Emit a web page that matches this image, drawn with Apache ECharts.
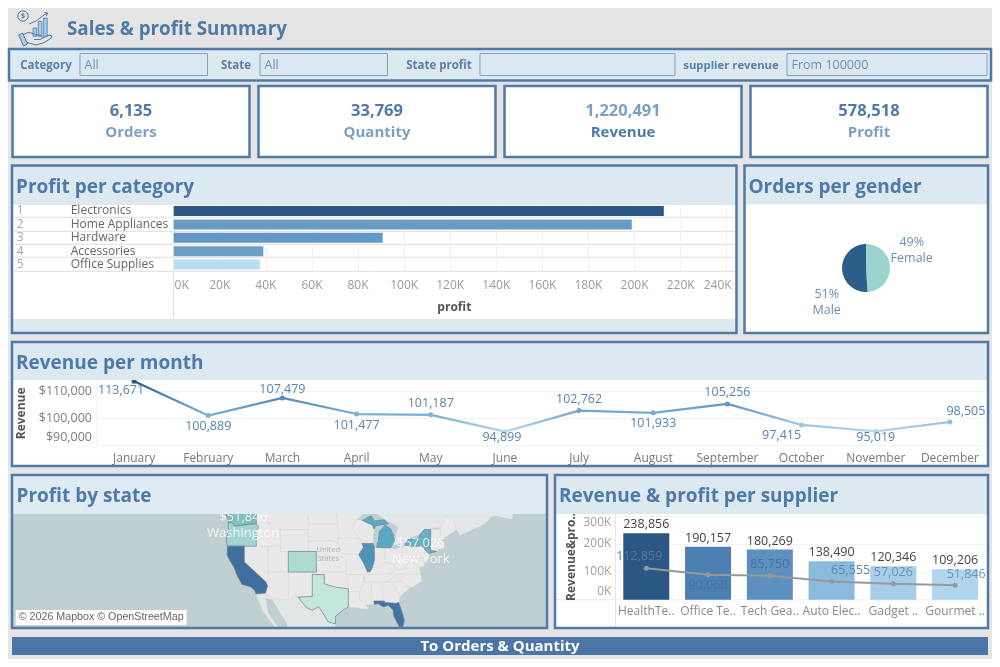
<!DOCTYPE html>
<html><head><meta charset="utf-8">
<style>html,body{margin:0;padding:0;background:#fff}#c{width:1000px;height:667px}</style>
<script src="https://cdn.jsdelivr.net/npm/echarts@6/dist/echarts.min.js"></script></head>
<body><div id="c"></div>
<script>
// ---------- data ----------
const kpiNames = ['Orders','Quantity','Revenue','Profit'];
const kpiValues = ['6,135','33,769','1,220,491','578,518'];
const categories = ['Electronics','Home Appliances','Hardware','Accessories','Office Supplies'];
const categoryRanks = ['1','2','3','4','5'];
const categoryProfit = [212700,198800,90700,38900,37400];
const genders = ['Female','Male'];
const genderOrders = [3006,3129];
const months = ['January','February','March','April','May','June','July','August','September','October','November','December'];
const monthRevenue = [113671,100889,107479,101477,101187,94899,102762,101933,105256,97415,95019,98505];
const suppliers = ['HealthTe..','Office Te..','Tech Gea..','Auto Elec..','Gadget ..','Gourmet ..'];
const supplierRevenue = [238856,190157,180269,138490,120346,109206];
const supplierProfit = [112859,90068,85750,65555,57026,51846];
const mapStates = ['Texas','Colorado','Oregon','Washington','New York','Michigan','Illinois','Florida','California'];
const labelledStates = ['Washington','New York'];
const labelledProfit = [51846,57026];

// ---------- styles ----------
const FONT = '"Open Sans","Noto Sans",sans-serif';
const BLUE = '#4f79a7', BAND = '#dce9f0', LIGHTTXT = '#7ba0c6', GUT = '#e5e5e5';
const categoryColors = ['#2a5783','#6a9bc3','#6298c5','#6e9dc5','#b9ddf1'];
const genderColors = ['#9bd4ce','#2b5f8a'];
const supplierColors = ['#2a5783','#4c80b2','#5d90bf','#8abbdc','#a6cee9','#b0d5ee'];
const stateColors = ['#c3e7dc','#acdccf','#a4d4d2','#7fbfbd','#66b2c6','#5aa9c2','#4f94b8','#3f73a3','#3f6f9c'];
const monthLabelOffsets = [[-13,9],[0,11],[0,-8.5],[0,11],[0,-11],[-3,6],[0,-11],[0,11],[0,-11],[-20,11],[0,6],[16,-11]];
const profitLabelOffsets = [[-7,-11.5],[0,11],[0,-11],[19,-11.5],[0,-11],[11,-11]];
const profitLabelColors = ['#567a9e','#47739f','#44719f','#5f86a8','#6c90b0','#6f95b8'];
const genderLabelAt = [[911.7,250.7],[826.7,302]];
const labelAnchors = [[-120.3,45.75],[-75.9,41.05]];

// ---------- base map geometry (rough outlines, lon/lat) ----------
const geoShapes = {
 Canada:[[-130,48.6],[-56,48.6],[-60,46],[-66,44],[-67,45],[-68,47.2],[-69.2,47.4],[-70.8,45.4],[-75,45],[-76,44.2],[-79,43.4],[-79.8,42.7],[-83,42.1],[-82.4,43],[-81.6,45.5],[-84.5,46.6],[-88.5,48.5],[-122.8,48.6],[-125,48.6]],
 Newfoundland:[[-59.4,47.7],[-53,46.8],[-52.8,48.6],[-58,48.6]],
 Mexico:[[-117.1,32.5],[-114.8,32.5],[-111,31.3],[-108.2,31.3],[-108.2,31.8],[-106.5,31.8],[-104.5,29.6],[-103,29],[-101.4,29.8],[-99,26.4],[-97.2,26],[-97.6,23],[-109,23],[-109.3,26],[-113,31.2],[-114.7,31.6],[-114,28.5],[-110,23],[-112.2,25],[-115.5,29]],
 Nevada:[[-120,42],[-114,42],[-114,36.2],[-114.6,35],[-120,39]],
 Idaho:[[-117,49],[-116,49],[-116,48],[-114.5,46.6],[-113.5,45.5],[-111,44.5],[-111,42],[-117,42],[-117,44.3],[-116.5,45.5],[-117,46]],
 Montana:[[-116,49],[-104,49],[-104,45],[-111,45],[-111,44.5],[-113.5,45.5],[-114.5,46.6],[-116,48]],
 Wyoming:[[-111,45],[-104,45],[-104,41],[-111,41]],
 Utah:[[-114,42],[-111,42],[-111,41],[-109,41],[-109,37],[-114,37]],
 Arizona:[[-114,37],[-109,37],[-109,31.3],[-111,31.3],[-114.8,32.5],[-114.7,32.7],[-114.2,34.2],[-114.6,35],[-114,36.2]],
 NewMexico:[[-109,37],[-103,37],[-103,32],[-106.6,32],[-106.5,31.8],[-108.2,31.8],[-108.2,31.3],[-109,31.3]],
 NorthDakota:[[-104,49],[-97.2,49],[-96.6,46],[-104,46]],
 SouthDakota:[[-104,46],[-96.6,46],[-96.5,42.5],[-98,43],[-104,43]],
 Nebraska:[[-104,43],[-98,43],[-96.5,42.5],[-95.3,40],[-102,40],[-102,41],[-104,41]],
 Kansas:[[-102,40],[-95.3,40],[-94.6,39],[-94.6,37],[-102,37]],
 Oklahoma:[[-103,37],[-94.6,37],[-94.4,35.4],[-94,33.6],[-97,33.9],[-100,34.6],[-100,36.5],[-103,36.5]],
 Minnesota:[[-97.2,49],[-95,49],[-92,48.3],[-89.7,48],[-92,46.7],[-92.8,45.5],[-92.7,44.8],[-91.3,43.5],[-96.5,43.5],[-96.6,46]],
 Iowa:[[-96.5,43.5],[-91.3,43.5],[-90.2,41.8],[-91.4,40.4],[-95.8,40.6],[-96.5,42.5]],
 Missouri:[[-95.8,40.6],[-91.4,40.4],[-90.2,38.8],[-89.2,37],[-89.6,36],[-90.4,36],[-90.3,36.5],[-94.6,36.5],[-94.6,39]],
 Arkansas:[[-94.6,36.5],[-90.3,36.5],[-90.2,35],[-91.2,33],[-94,33],[-94,33.6],[-94.4,35.4]],
 Louisiana:[[-94,33],[-91.2,33],[-91,31],[-89.7,31],[-89.6,30.2],[-89,29.2],[-91.5,29.5],[-94,29.7]],
 Wisconsin:[[-92,46.7],[-90.5,46.6],[-88,45.8],[-87.6,45.1],[-87.8,42.5],[-90.6,42.5],[-91.3,43.5],[-92.7,44.8],[-92.8,45.5]],
 Indiana:[[-87.5,41.7],[-84.8,41.7],[-84.8,39.1],[-86,38],[-88,37.9],[-87.5,39.3]],
 Ohio:[[-84.8,41.7],[-83.4,41.7],[-82.5,41.4],[-80.5,42],[-80.5,40.6],[-81.7,39],[-82.6,38.4],[-84.8,39.1]],
 Kentucky:[[-89.4,36.5],[-88,37.9],[-86,38],[-84.8,39.1],[-82.6,38.4],[-82,37.5],[-83.7,36.6]],
 Tennessee:[[-90.2,35],[-89.6,36.5],[-83.7,36.6],[-81.7,36.6],[-84.3,35]],
 Mississippi:[[-91.2,33],[-90.2,35],[-88.2,35],[-88.4,30.3],[-89.6,30.2],[-89.7,31],[-91,31]],
 Alabama:[[-88.2,35],[-85.6,35],[-85,32],[-85,31],[-87.6,31],[-87.5,30.3],[-88.4,30.3]],
 Georgia:[[-85.6,35],[-83.1,35],[-81,32],[-81.4,30.7],[-82.2,30.5],[-84.9,30.7],[-85,31]],
 SouthCarolina:[[-83.1,35],[-81,35.2],[-78.6,33.9],[-81,32]],
 NorthCarolina:[[-84.3,35],[-81.7,36.6],[-75.9,36.6],[-75.6,35.2],[-78,33.9],[-78.6,33.9],[-81,35.2],[-83.1,35]],
 Virginia:[[-83.7,36.6],[-75.9,36.6],[-76.3,38],[-77.2,38.5],[-78.3,39.4],[-80.3,37.5],[-82,37.5]],
 WestVirginia:[[-82.6,38.4],[-81.7,39],[-80.5,40.6],[-80.5,39.7],[-77.8,39.6],[-78.3,39.4],[-80.3,37.5],[-82,37.5]],
 Pennsylvania:[[-80.5,42],[-79.8,42.3],[-79.8,42],[-75.3,42],[-74.8,41.3],[-75.2,39.8],[-80.5,39.7]],
 NewJersey:[[-75.2,39.8],[-74.8,41.3],[-73.9,40.9],[-74,39.5],[-75,38.9]],
 Maryland:[[-79.5,39.7],[-75.2,39.7],[-75,38.2],[-76.3,38],[-77.2,38.5],[-78.3,39.4]],
 NewEngland:[[-73.5,41.2],[-73.4,45],[-71.5,45],[-71,45.3],[-70.7,43.1],[-70,41.7],[-71.8,41.3]],
 Maine:[[-71,45.3],[-70,46.7],[-69.2,47.4],[-68,47.2],[-67,45],[-70.7,43.1]],
 Washington:[[-124.7,48.4],[-123,48.2],[-122.8,49],[-117,49],[-117,46],[-119,45.9],[-121,45.7],[-122.3,45.6],[-123.2,46.2],[-124,46.3]],
 Oregon:[[-124,46.3],[-123.2,46.2],[-122.3,45.6],[-121,45.7],[-119,45.9],[-117,46],[-116.5,45.5],[-117,44.3],[-117,42],[-124.2,42],[-124.5,43],[-124,45]],
 California:[[-124.2,42],[-120,42],[-120,39],[-114.6,35],[-114.2,34.2],[-114.7,32.7],[-117.1,32.5],[-117.4,33.3],[-118.5,34],[-120.6,34.5],[-121.9,36.5],[-122.5,37.8],[-123.8,39.5],[-124.3,40.4]],
 Colorado:[[-109,41],[-102,41],[-102,37],[-109,37]],
 Texas:[[-103,36.5],[-100,36.5],[-100,34.6],[-97,33.9],[-94,33.6],[-94,29.7],[-95,29.2],[-97.2,27.7],[-97.2,26],[-99,26.4],[-101.4,29.8],[-103,29],[-104.5,29.6],[-106.5,31.8],[-103,32]],
 Illinois:[[-90.6,42.5],[-87.8,42.5],[-87.5,41.7],[-87.5,39.3],[-88,37.9],[-88.5,37.1],[-89.2,37],[-90.2,38.8],[-91.4,40.4],[-90.2,41.8]],
 Florida:[[-87.6,31],[-85,31],[-84.9,30.7],[-82.2,30.5],[-81.4,30.7],[-80.5,28.4],[-80,26.8],[-80.4,25.2],[-81.2,25.2],[-82.7,27.8],[-82.8,29],[-84,30.1],[-85.3,29.7],[-86.5,30.4],[-87.5,30.3]],
 'New York':[[-79.8,42.3],[-79,43.3],[-76.5,43.5],[-76,44.2],[-75,45],[-73.4,45],[-73.5,41.2],[-72,41],[-72,41.1],[-73.9,40.6],[-74.8,41.3],[-75.3,42],[-79.8,42]]
};
const michigan = [
 [[[-87,41.8],[-84.8,41.7],[-83.4,41.7],[-82.5,43],[-82.7,44],[-83.4,45.1],[-84.8,45.8],[-86.2,44.7],[-86.5,43]]],
 [[[-90.5,46.6],[-88.3,47.4],[-87.5,46.5],[-85,46.7],[-84,46],[-85,45.9],[-87,45.7],[-87.6,45.1],[-88,45.8]]]
];
const features = Object.keys(geoShapes).map(n => ({type:'Feature',properties:{name:n},geometry:{type:'Polygon',coordinates:[geoShapes[n]]}}));
features.push({type:'Feature',properties:{name:'Michigan'},geometry:{type:'MultiPolygon',coordinates:michigan}});
echarts.registerMap('usa',{type:'FeatureCollection',features});

const rad = Math.PI/180;
const mercDeg = lat => Math.log(Math.tan(Math.PI/4 + lat*rad/2))/rad;
const latOf = m => (2*Math.atan(Math.exp(m*rad)) - Math.PI/2)/rad;

// ---------- page furniture ----------
const g = [];
const rect = (x,y,w,h,fill,stroke,lw,z) => g.push({type:'rect',silent:true,z:z??-1,shape:{x,y,width:w,height:h},style:{fill:fill||'none',stroke:stroke||'none',lineWidth:lw||0}});
const text = (t,x,y,size,color,weight,align,z,family) => g.push({type:'text',silent:true,z:z??50,style:{text:t,x,y:y+1,fontSize:size,fontWeight:weight||'normal',fontFamily:family||FONT,fill:color,align:align||'left',verticalAlign:'middle',textAlign:align||'left',textVerticalAlign:'middle'}});
const hline = (x1,x2,y,c,z) => g.push({type:'line',silent:true,z:z??-1,shape:{x1,y1:y,x2,y2:y},style:{stroke:c,lineWidth:1}});
const vline = (x,y1,y2,c,z) => g.push({type:'line',silent:true,z:z??-1,shape:{x1:x,y1,x2:x,y2},style:{stroke:c,lineWidth:1}});
const poly = (type,points,fill) => g.push({type,silent:true,z:50,shape:{points},style:{fill:fill||'none',stroke:BLUE,lineWidth:1}});

rect(8,8,984,651,GUT);
// header
text('Sales & profit Summary',67,29,18.8,BLUE,'bold');
g.push({type:'circle',silent:true,z:50,shape:{cx:23,cy:16,r:5.2},style:{fill:'none',stroke:BLUE,lineWidth:1}});
text('$',23,15,7,BLUE,'bold','center');
[[33,28,3.6,8.3],[38.3,21.5,3.6,14.8],[43.6,18,3.6,18.3]].forEach(r=>g.push({type:'rect',silent:true,z:50,shape:{x:r[0],y:r[1],width:r[2],height:r[3]},style:{fill:'#a8cbe6',stroke:BLUE,lineWidth:.8}}));
poly('polyline',[[29,24],[36,21],[44,15],[47.5,13]]);
poly('polyline',[[44.5,12.5],[47.5,13],[46.5,15.8]]);
poly('polygon',[[18.5,35],[22.5,33],[27.5,44],[23.5,46]],'#a8cbe6');
poly('polyline',[[23,35],[27,32.7],[31,32.8],[35,34.5],[41,35.5],[42.3,37.5],[40.5,39.5],[34,39.5]]);
poly('polyline',[[40.5,39],[49,35.2],[51.8,35.5],[51.5,38],[44,42.6],[36,45],[27,42.5]]);

// filter strip
rect(9,49,982,31.5,BAND,BLUE,2.5);
[[80,53.5,127.5],[260,53.5,127.5],[480,53.5,195],[787,53.5,200]].forEach(b=>rect(b[0],b[1],b[2],22,'#dbe8f1','#85a1bb',1));
text('Category',46,65,11.5,'#5a7fa8','bold','center');
text('State',236,65,11.5,'#5a7fa8','bold','center');
text('State profit',439,65,11.5,'#5a7fa8','bold','center');
text('supplier revenue',731,65,11.3,'#5a7fa8','bold','center');
text('All',84.5,64.5,12.5,'#6f8fb0');
text('All',264.5,64.5,12.5,'#6f8fb0');
text('From 100000',791.5,64.5,12.5,'#6f8fb0');

// KPI cards
[12.5,258.5,504.5,750.5].forEach((x,i)=>{
  rect(x,86,237,71,'#fff',BLUE,2.5);
  const dark = BLUE, cx = x+118.5;
  const numDark = i!==2;
  text(kpiValues[i],cx,110.5,16.5,numDark?dark:LIGHTTXT,'bold','center');
  text(kpiNames[i],cx,132,15,numDark?LIGHTTXT:dark,'bold','center');
});

// panels
function panel(x,y,w,h,bandH,title,bottomBand){
  rect(x,y,w,h,'#fff');
  rect(x,y,w,bandH,BAND,null,0,100);
  if(bottomBand) rect(x,y+h-bottomBand,w,bottomBand,BAND,null,0,100);
  rect(x,y,w,h,null,BLUE,2.5,101);
  text(title,x+4,y+bandH/2+1.5,19,BLUE,'bold','left',102);
}
panel(12,165.5,724.5,167.5,39,'Profit per category',14);
panel(744.5,165.5,243.5,167.5,39,'Orders per gender');
panel(12,342,976,124,38,'Revenue per month');
// map panel: sea first, then frame above the map
rect(12,475,535,153,'#c0d0d2');
rect(12,475,535,39,'#dfebf2',null,0,100);
rect(8,628,984,31,GUT,null,0,99);
rect(12,475,535,153,null,BLUE,2.5,101);
text('Profit by state',16.5,495.5,19,BLUE,'bold','left',102);
panel(555,475,433,153,39,'Revenue & profit per supplier');

// category rows & helpers
[204.3,217.3,231.3,244.3,257.3,271.3].forEach(y=>hline(14,735,y,'#e0dedc'));
vline(173.7,204,318,'#dcdcdc');
hline(556,986,599.7,'#e8e8e8');
vline(615.4,514,627,'#e4e4e4');
vline(97,380,447,'#f0f0f0');

// attribution + button
g.push({type:'text',silent:true,z:103,style:{text:'© 2026 Mapbox © OpenStreetMap',x:15.7,y:617.5,fontSize:10.7,fontFamily:'"Liberation Sans",Arial,sans-serif',fill:'#666',backgroundColor:'#fff',padding:[2,3,2,3],align:'left',verticalAlign:'middle',textAlign:'left',textVerticalAlign:'middle'}});
rect(12,637,976,18,'#4a75a5',null,0,103);
text('To Orders & Quantity',500,646,15,'#fff','bold','center',104);

// ---------- chart ----------
const tickColor = '#9a9a9a';
const kTicks = [];
for (let v=0;v<=240000;v+=20000) kTicks.push(v);
const option = {
  animation:false,
  textStyle:{fontFamily:FONT},
  graphic:{elements:g},
  grid:[
    {left:173.7,top:204.3,width:561.3,height:67},
    {left:97,top:380,width:890,height:66.7},
    {left:615.4,top:514,width:370.6,height:85.7}
  ],
  geo:{
    map:'usa',silent:true,roam:false,left:13,top:514,width:533,height:113,
    projection:{project:p=>[p[0],-mercDeg(p[1])],unproject:p=>[p[0],latOf(-p[1])]},
    boundingCoords:[[-177.8,latOf(54.4)],[-44.6,latOf(26.14)]],
    itemStyle:{areaColor:'#e9e9e9',borderColor:'#dadada',borderWidth:.5},
    regions:[
      {name:'Canada',itemStyle:{areaColor:'#e3e6e6',borderWidth:0}},
      {name:'Newfoundland',itemStyle:{areaColor:'#e3e6e6',borderWidth:0}},
      {name:'Mexico',itemStyle:{areaColor:'#e3e6e6',borderWidth:0}},
      ...mapStates.map((n,i)=>({name:n,itemStyle:{areaColor:stateColors[i],borderColor:'#73848f',borderWidth:.7}}))
    ],
    label:{show:false}
  },
  xAxis:[
    {gridIndex:0,type:'value',min:0,max:243600,
      name:'profit',nameLocation:'middle',nameGap:30,nameTextStyle:{fontSize:12,fontWeight:'bold',color:'#555'},
      axisLine:{show:false},axisTick:{show:false,customValues:kTicks},
      splitLine:{show:true,lineStyle:{color:'#f1f1f1'}},
      axisLabel:{customValues:kTicks,color:tickColor,fontSize:12,margin:8,
        formatter:v=>{const s=(v/1000)+'K';return v===0?'{a|'+s+'}':v===240000?'{b|'+s+'}':s;},
        rich:{a:{color:tickColor,fontSize:12,padding:[0,0,0,16]},b:{color:tickColor,fontSize:12,padding:[0,18,0,0]}}}},
    {gridIndex:1,type:'category',data:months,
      axisLine:{show:false},axisTick:{show:false},
      axisLabel:{interval:0,color:'#777',fontSize:12,margin:6}},
    {gridIndex:2,type:'category',data:suppliers,
      axisLine:{show:false},axisTick:{show:false},
      axisLabel:{interval:0,color:'#8a8a8a',fontSize:12,margin:6}}
  ],
  yAxis:[
    {gridIndex:0,type:'category',data:categories,inverse:true,position:'left',
      axisLine:{show:false},axisTick:{show:false},
      axisLabel:{interval:0,align:'left',margin:103,color:'#666',fontSize:12}},
    {gridIndex:0,type:'category',data:categoryRanks,inverse:true,position:'left',
      axisLine:{show:false},axisTick:{show:false},
      axisLabel:{interval:0,align:'left',margin:157,color:'#a8a8a8',fontSize:12}},
    {gridIndex:1,type:'value',min:89310,max:114150,
      name:'Revenue',nameLocation:'middle',nameGap:63,nameRotate:90,nameTextStyle:{fontSize:12,fontWeight:'bold',color:'#555'},
      axisLine:{show:false},axisTick:{show:false,customValues:[90000,100000,110000]},
      splitLine:{show:true,lineStyle:{color:'#f3f3f3'}},
      axisLabel:{customValues:[90000,100000,110000],color:'#7d7d7d',fontSize:12.5,margin:5,
        formatter:v=>{const s='$'+v.toLocaleString('en-US');return v===90000?'{a|'+s+'}':s;},
        rich:{a:{color:'#7d7d7d',fontSize:12.5,padding:[0,0,14,0]}}}},
    {gridIndex:2,type:'value',min:0,max:308000,
      name:'Revenue&pro..',nameLocation:'middle',nameGap:38,nameRotate:90,nameTextStyle:{fontSize:12,fontWeight:'bold',color:'#555'},
      axisLine:{show:false},axisTick:{show:false,customValues:[0,100000,200000,300000]},
      splitLine:{show:true,lineStyle:{color:'#f3f3f3'}},
      axisLabel:{customValues:[0,100000,200000,300000],color:'#a0a0a0',fontSize:12,margin:4,
        formatter:v=>{const s=(v/1000)+'K';return v===0?'{a|'+s+'}':v===300000?'{b|'+s+'}':s;},
        rich:{a:{color:'#a0a0a0',fontSize:12,padding:[0,0,16,0]},b:{color:'#a0a0a0',fontSize:12,padding:[12,0,0,0]}}}}
  ],
  visualMap:[{type:'continuous',show:false,seriesIndex:2,dimension:1,min:94899,max:113671,
    inRange:{color:['#b5d9ef','#8ab8dc','#6a9cc6','#4f82b0','#2a5783']}}],
  series:[
    {type:'bar',xAxisIndex:0,yAxisIndex:0,barWidth:10,silent:true,
      data:categoryProfit.map((v,i)=>({value:v,itemStyle:{color:categoryColors[i]}}))},
    {type:'pie',center:[866,268],radius:24,startAngle:90,clockwise:true,silent:true,
      data:genders.map((n,i)=>({name:n,value:genderOrders[i],itemStyle:{color:genderColors[i]}})),
      label:{show:true,position:'outside',formatter:'{d}%\n{b}',color:'#6b8cb6',fontSize:12.5,lineHeight:16,align:'center'},
      percentPrecision:0,
      labelLine:{show:false},
      labelLayout:p=>({x:genderLabelAt[p.dataIndex][0],y:genderLabelAt[p.dataIndex][1],align:'center',verticalAlign:'middle'})},
    {type:'line',xAxisIndex:1,yAxisIndex:2,symbol:'circle',symbolSize:5,lineStyle:{width:2.2},silent:true,
      data:monthRevenue.map((v,i)=>({value:v,label:{offset:monthLabelOffsets[i]}})),
      label:{show:true,position:'inside',color:'#5a82b0',fontSize:12.5,formatter:p=>p.value.toLocaleString('en-US')}},
    {type:'bar',xAxisIndex:2,yAxisIndex:3,barWidth:46,silent:true,
      data:supplierRevenue.map((v,i)=>({value:v,itemStyle:{color:supplierColors[i]}})),
      label:{show:true,position:'top',distance:2,color:'#444',fontSize:12.5,formatter:p=>p.value.toLocaleString('en-US')}},
    {type:'line',xAxisIndex:2,yAxisIndex:3,symbol:'circle',symbolSize:5,silent:true,z:3,
      lineStyle:{width:2,color:'#999'},itemStyle:{color:'#999'},
      data:supplierProfit.map((v,i)=>({value:v,label:{offset:profitLabelOffsets[i],color:profitLabelColors[i]}})),
      label:{show:true,position:'inside',fontSize:12.5,formatter:p=>p.value.toLocaleString('en-US')}},
    {type:'scatter',coordinateSystem:'geo',geoIndex:0,symbolSize:0,silent:true,z:4,
      data:labelledStates.map((n,i)=>({name:n,value:[labelAnchors[i][0],labelAnchors[i][1],labelledProfit[i]]})),
      label:{show:true,position:'inside',color:'#fff',fontSize:13,lineHeight:15.6,align:'center',
        formatter:p=>'$'+p.value[2].toLocaleString('en-US')+'\n'+p.name}},
    {type:'scatter',coordinateSystem:'geo',geoIndex:0,symbolSize:0,silent:true,z:4,
      data:[{name:'United\nStates',value:[-99,40.5]}],
      label:{show:true,position:'inside',color:'#a4a4a4',fontSize:7.5,lineHeight:8.7,align:'center',formatter:p=>p.name}}
  ]
};
const chart = echarts.init(document.getElementById('c'),null,{renderer:'canvas',width:1000,height:667});
chart.setOption(option);
</script></body></html>
